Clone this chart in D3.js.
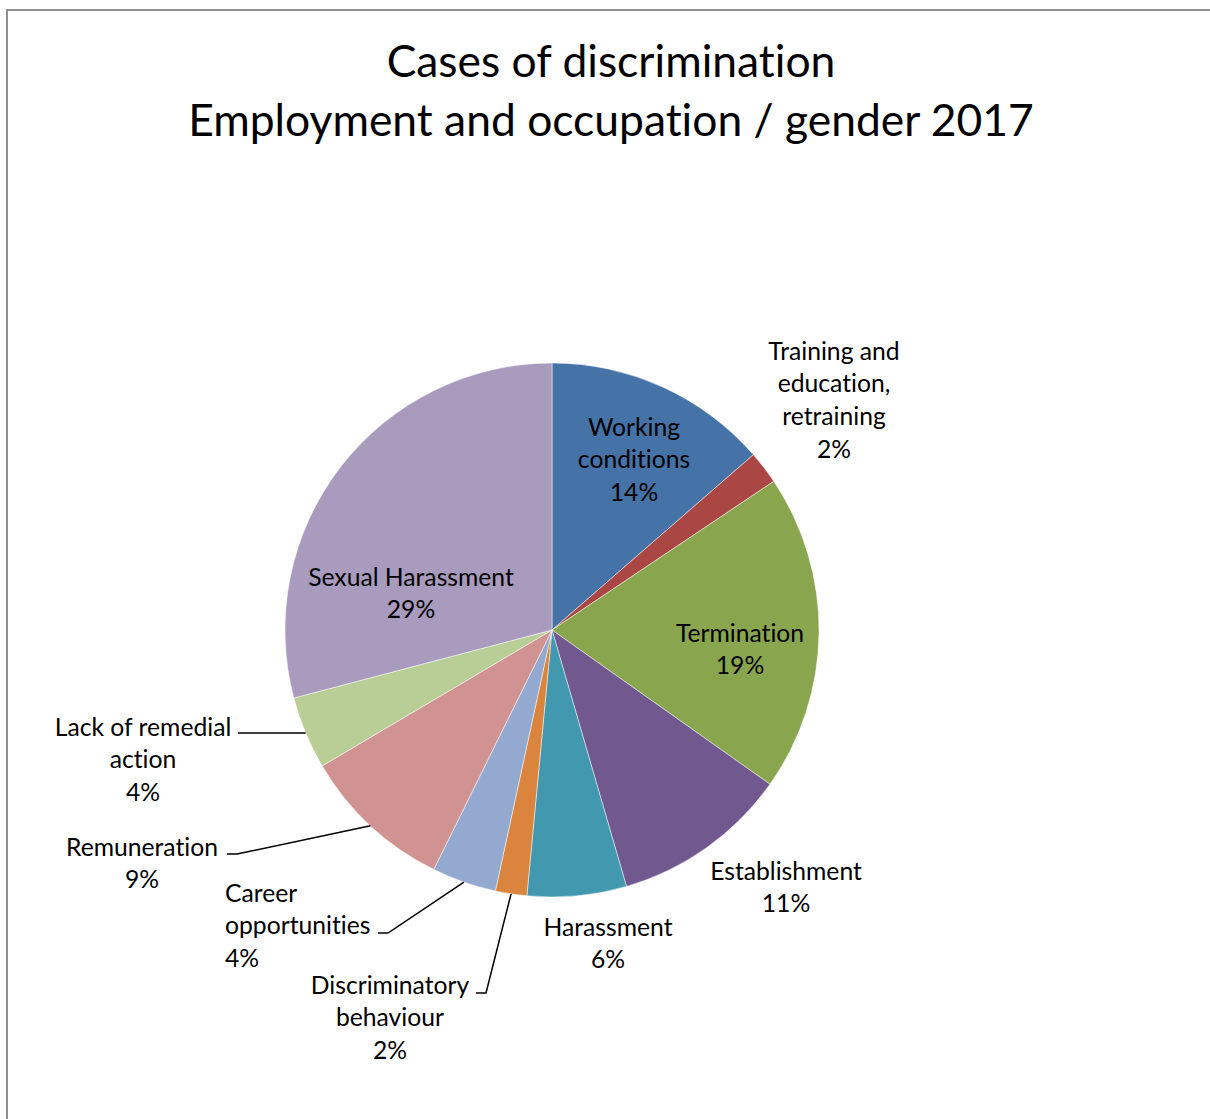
<!DOCTYPE html>
<html>
<head>
<meta charset="utf-8">
<script src="https://cdn.jsdelivr.net/npm/d3@7"></script>
<style>
  html, body { margin: 0; padding: 0; background: #fff; }
  svg { display: block; }
  text { font-family: Lato, "Open Sans", sans-serif; fill: #000; font-variant-ligatures: none; }
</style>
</head>
<body>
<svg id="chart" width="1210" height="1119"></svg>
<script>
// Share of discrimination cases by area, 2017 (percent)
const categories = [
  "Working conditions",
  "Training and education, retraining",
  "Termination",
  "Establishment",
  "Harassment",
  "Discriminatory behaviour",
  "Career opportunities",
  "Remuneration",
  "Lack of remedial action",
  "Sexual Harassment"
];
const values = [13.6, 2.0, 19.2, 10.7, 6.0, 1.9, 3.9, 9.2, 4.4, 29.1];
const colors = ["#4572A7", "#AA4643", "#89A54E", "#71588F", "#4198AF",
                "#DB843D", "#93A9CF", "#D19392", "#B9CD96", "#A99BBD"];
// How each category name wraps in its label
const labelLines = [
  ["Working", "conditions"],
  ["Training and", "education,", "retraining"],
  ["Termination"],
  ["Establishment"],
  ["Harassment"],
  ["Discriminatory", "behaviour"],
  ["Career", "opportunities"],
  ["Remuneration"],
  ["Lack of remedial", "action"],
  ["Sexual Harassment"]
];
const titleLines = ["Cases of discrimination", "Employment and occupation / gender 2017"];

// Label placement: x, y of first line centre, anchor, optional leader start
const labelLayout = [
  {x: 634, y: 427, anchor: "middle"},
  {x: 834, y: 351, anchor: "middle"},
  {x: 740, y: 633, anchor: "middle"},
  {x: 786, y: 871, anchor: "middle"},
  {x: 608, y: 927, anchor: "middle"},
  {x: 390, y: 985, anchor: "middle", leader: [476, 993]},
  {x: 225, y: 893, anchor: "start",  leader: [378, 933]},
  {x: 142, y: 847, anchor: "middle", leader: [227, 854]},
  {x: 143, y: 727, anchor: "middle", leader: [238, 733]},
  {x: 411, y: 577, anchor: "middle"}
];

const svg = d3.select("#chart");

// Chart area frame
svg.append("rect")
  .attr("x", 7).attr("y", 10)
  .attr("width", 1260).attr("height", 1160)
  .attr("fill", "none")
  .attr("stroke", "#8e8e8e")
  .attr("stroke-width", 2);

// Title
svg.append("g").selectAll("text")
  .data(titleLines)
  .join("text")
  .attr("x", 611)
  .attr("y", (d, i) => 61 + i * 59)
  .attr("dy", "0.35em")
  .attr("text-anchor", "middle")
  .attr("font-size", 44.4)
  .text(d => d);

const cx = 552, cy = 630, radius = 267;
const pie = d3.pie().sort(null).value(d => d);
const arcs = pie(values);
const arc = d3.arc().innerRadius(0).outerRadius(radius);

const g = svg.append("g").attr("transform", `translate(${cx},${cy})`);
g.selectAll("path")
  .data(arcs)
  .join("path")
  .attr("d", arc)
  .attr("fill", (d, i) => colors[i])
  .attr("stroke", "#ffffff")
  .attr("stroke-opacity", 0.6)
  .attr("stroke-width", 0.8);

// Leader lines from outside labels to the slice edge
const edgePoint = d => {
  const a = (d.startAngle + d.endAngle) / 2;
  return [cx + radius * Math.sin(a), cy - radius * Math.cos(a)];
};
arcs.forEach((d, i) => {
  const lay = labelLayout[i];
  if (!lay.leader) return;
  const [sx, sy] = lay.leader;
  const [ex, ey] = edgePoint(d);
  svg.append("polyline")
    .attr("points", [[sx, sy], [sx + 10, sy], [ex, ey]].map(p => p.join(",")).join(" "))
    .attr("fill", "none")
    .attr("stroke", "#000")
    .attr("stroke-width", 1.5);
});

// Data labels: name lines followed by the rounded percentage
const total = d3.sum(values);
const labels = svg.append("g");
arcs.forEach((d, i) => {
  const lay = labelLayout[i];
  const lines = labelLines[i].concat([Math.round(d.value / total * 100) + "%"]);
  labels.append("text")
    .attr("text-anchor", lay.anchor)
    .attr("font-size", 24.7)
    .selectAll("tspan")
    .data(lines)
    .join("tspan")
    .attr("x", lay.x)
    .attr("y", (t, j) => lay.y + j * 32.7)
    .attr("dy", "0.35em")
    .text(t => t);
});
</script>
</body>
</html>
